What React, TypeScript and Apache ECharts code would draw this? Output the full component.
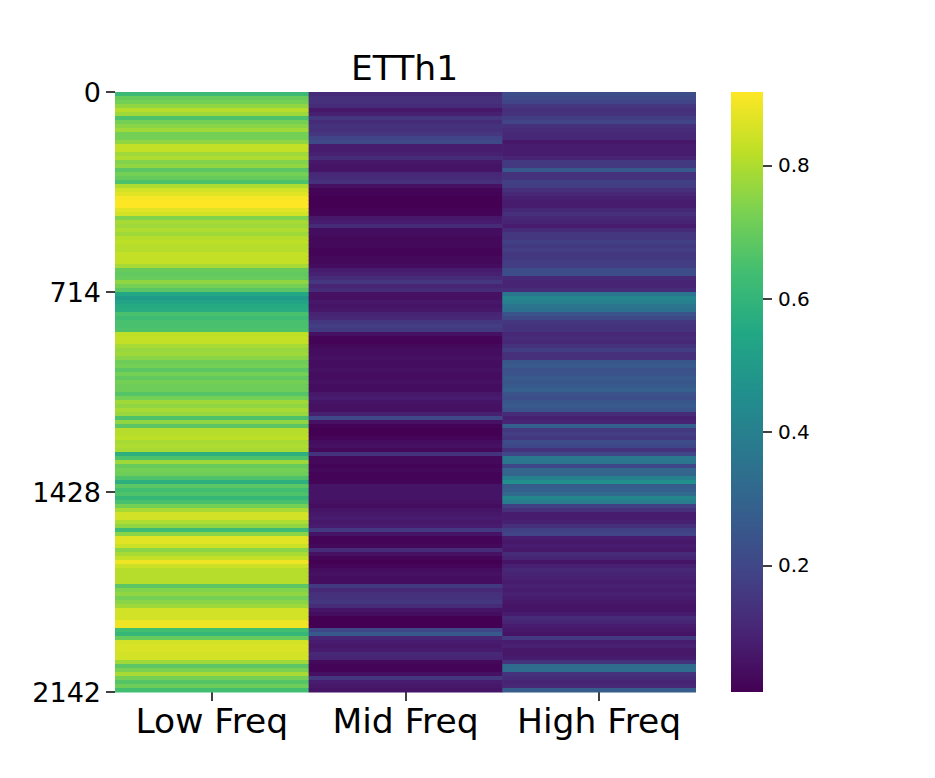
import { useEffect, useRef } from 'react';
import * as echarts from 'echarts';

const bands = ['Low Freq', 'Mid Freq', 'High Freq'];
const rowTicks = [0, 714, 1428, 2142];
const colorbarTicks = [0.2, 0.4, 0.6, 0.8];
const viridis = [
  '#440154', '#482475', '#414487', '#355f8d', '#2a788e', '#21908d',
  '#22a884', '#42be71', '#7ad151', '#bddf26', '#fde725',
];

// one row = 2142 / 150 samples, read from top to bottom
const lowFreq = [
  0.62, 0.7, 0.72, 0.76, 0.81, 0.78, 0.66, 0.72, 0.75, 0.78,
  0.72, 0.72, 0.76, 0.83, 0.83, 0.78, 0.8, 0.74, 0.76, 0.68,
  0.72, 0.7, 0.66, 0.8, 0.85, 0.87, 0.9, 0.91, 0.91, 0.87,
  0.85, 0.74, 0.79, 0.78, 0.8, 0.78, 0.81, 0.82, 0.81, 0.81,
  0.83, 0.83, 0.83, 0.79, 0.7, 0.69, 0.7, 0.76, 0.72, 0.68,
  0.55, 0.5, 0.53, 0.56, 0.57, 0.65, 0.63, 0.65, 0.65, 0.66,
  0.82, 0.83, 0.83, 0.79, 0.77, 0.78, 0.75, 0.71, 0.72, 0.68,
  0.72, 0.69, 0.72, 0.71, 0.71, 0.67, 0.72, 0.78, 0.76, 0.79,
  0.77, 0.66, 0.76, 0.68, 0.81, 0.81, 0.82, 0.79, 0.8, 0.79,
  0.58, 0.66, 0.78, 0.7, 0.72, 0.71, 0.66, 0.58, 0.68, 0.64,
  0.66, 0.61, 0.65, 0.72, 0.79, 0.85, 0.85, 0.8, 0.76, 0.63,
  0.75, 0.87, 0.87, 0.84, 0.75, 0.79, 0.83, 0.89, 0.84, 0.81,
  0.81, 0.81, 0.81, 0.68, 0.74, 0.76, 0.72, 0.75, 0.78, 0.85,
  0.85, 0.85, 0.89, 0.89, 0.64, 0.61, 0.7, 0.85, 0.86, 0.86,
  0.85, 0.85, 0.78, 0.68, 0.73, 0.79, 0.72, 0.67, 0.71, 0.64,
];
const midFreq = [
  0.12, 0.13, 0.13, 0.12, 0.07, 0.09, 0.15, 0.12, 0.14, 0.13,
  0.15, 0.19, 0.21, 0.08, 0.08, 0.09, 0.12, 0.07, 0.06, 0.06,
  0.11, 0.12, 0.13, 0.05, 0.02, 0.015, 0.01, 0.01, 0.01, 0.015,
  0.02, 0.07, 0.08, 0.12, 0.04, 0.04, 0.03, 0.03, 0.03, 0.02,
  0.02, 0.03, 0.03, 0.04, 0.08, 0.09, 0.12, 0.15, 0.1, 0.12,
  0.05, 0.05, 0.07, 0.06, 0.07, 0.1, 0.11, 0.15, 0.17, 0.16,
  0.05, 0.02, 0.015, 0.03, 0.04, 0.04, 0.05, 0.04, 0.04, 0.05,
  0.04, 0.04, 0.05, 0.04, 0.04, 0.07, 0.08, 0.06, 0.05, 0.05,
  0.09, 0.2, 0.05, 0.015, 0.01, 0.01, 0.02, 0.04, 0.05, 0.03,
  0.14, 0.03, 0.03, 0.02, 0.03, 0.02, 0.02, 0.02, 0.06, 0.06,
  0.06, 0.06, 0.05, 0.04, 0.06, 0.07, 0.08, 0.07, 0.08, 0.16,
  0.06, 0.02, 0.02, 0.03, 0.12, 0.05, 0.02, 0.01, 0.02, 0.04,
  0.05, 0.04, 0.04, 0.16, 0.11, 0.13, 0.14, 0.15, 0.12, 0.06,
  0.04, 0.01, 0.01, 0.01, 0.2, 0.26, 0.1, 0.08, 0.07, 0.08,
  0.11, 0.1, 0.03, 0.02, 0.02, 0.05, 0.15, 0.08, 0.07, 0.06,
];
const highFreq = [
  0.22, 0.21, 0.19, 0.15, 0.13, 0.14, 0.17, 0.19, 0.13, 0.12,
  0.11, 0.11, 0.07, 0.08, 0.08, 0.08, 0.1, 0.16, 0.16, 0.26,
  0.14, 0.14, 0.18, 0.17, 0.13, 0.11, 0.09, 0.08, 0.08, 0.11,
  0.13, 0.11, 0.1, 0.08, 0.12, 0.15, 0.15, 0.18, 0.16, 0.17,
  0.15, 0.16, 0.17, 0.17, 0.22, 0.22, 0.11, 0.1, 0.1, 0.12,
  0.36, 0.42, 0.4, 0.36, 0.35, 0.24, 0.21, 0.15, 0.14, 0.14,
  0.11, 0.12, 0.11, 0.14, 0.17, 0.13, 0.13, 0.25, 0.26, 0.23,
  0.24, 0.26, 0.25, 0.26, 0.28, 0.24, 0.22, 0.25, 0.26, 0.24,
  0.12, 0.09, 0.1, 0.28, 0.16, 0.17, 0.15, 0.22, 0.2, 0.14,
  0.2, 0.37, 0.36, 0.2, 0.3, 0.3, 0.4, 0.46, 0.27, 0.28,
  0.32, 0.42, 0.38, 0.18, 0.13, 0.08, 0.08, 0.09, 0.13, 0.18,
  0.19, 0.08, 0.07, 0.08, 0.07, 0.12, 0.1, 0.06, 0.09, 0.11,
  0.1, 0.09, 0.08, 0.09, 0.08, 0.09, 0.08, 0.07, 0.06, 0.06,
  0.08, 0.12, 0.1, 0.08, 0.07, 0.06, 0.16, 0.08, 0.09, 0.07,
  0.07, 0.08, 0.14, 0.32, 0.33, 0.14, 0.12, 0.1, 0.11, 0.27,
];

const columns = [lowFreq, midFreq, highFreq];
const rowSpan = 2142 / lowFreq.length;
const cells = columns.flatMap((col, c) => col.map((v, r) => [c, r * rowSpan, v]));

const font = '"DejaVu Sans", sans-serif';

export default function App() {
  const chartRef = useRef<HTMLDivElement>(null);

  useEffect(() => {
    if (!chartRef.current) return;
    const chart = echarts.init(chartRef.current, null, { renderer: 'svg' });

    const colorbarFill = new echarts.graphic.LinearGradient(
      0,
      0,
      0,
      1,
      viridis.map((color, i) => ({ offset: 1 - i / (viridis.length - 1), color })).reverse(),
    );

    const option: any = {
      animation: false,
      backgroundColor: '#fff',
      title: {
        text: 'ETTh1',
        left: 351,
        top: 50,
        padding: 0,
        textStyle: { fontFamily: font, fontSize: 34.5, fontWeight: 'normal', color: '#000' },
      },
      grid: [
        { left: 115, top: 92, width: 581, height: 600 },
        { left: 731, top: 92, width: 32, height: 600, show: true, backgroundColor: colorbarFill, borderWidth: 0 },
      ],
      xAxis: [
        {
          type: 'category',
          data: bands,
          axisLine: { show: false, onZero: false },
          axisTick: { show: true, alignWithLabel: true, length: 9, lineStyle: { color: '#000', width: 1.5 } },
          axisLabel: { fontFamily: font, fontSize: 34.5, color: '#000', margin: 11, interval: 0 },
        },
        { type: 'value', gridIndex: 1, show: false },
      ],
      yAxis: [
        {
          type: 'value',
          inverse: true,
          min: 0,
          max: 2142,
          interval: 714,
          splitLine: { show: false },
          axisLine: { show: false },
          axisTick: { show: true, length: 9, lineStyle: { color: '#000', width: 1.5 } },
          axisLabel: {
            fontFamily: font,
            fontSize: 27,
            color: '#000',
            margin: 14,
            padding: [0, 0, 3, 0],
            customValues: rowTicks,
            formatter: (v: number) => String(v),
          },
        },
        {
          type: 'value',
          gridIndex: 1,
          position: 'right',
          min: 0.01,
          max: 0.91,
          splitLine: { show: false },
          axisLine: { show: false, onZero: false },
          axisTick: {
            show: true,
            length: 9,
            customValues: colorbarTicks,
            lineStyle: { color: '#000', width: 1.5 },
          },
          axisLabel: {
            fontFamily: font,
            fontSize: 20,
            color: '#000',
            margin: 15,
            customValues: colorbarTicks,
            formatter: (v: number) => v.toFixed(1),
          },
        },
      ],
      visualMap: {
        type: 'continuous',
        show: false,
        seriesIndex: 0,
        dimension: 2,
        min: 0.01,
        max: 0.91,
        inRange: { color: viridis },
      },
      series: [
        {
          type: 'custom',
          coordinateSystem: 'cartesian2d',
          silent: true,
          encode: { x: 0, y: 1 },
          data: cells,
          renderItem: (_params: any, api: any) => {
            const colWidth = api.size([1, 0])[0];
            const start = api.coord([api.value(0), api.value(1)]);
            const end = api.coord([api.value(0), api.value(1) + rowSpan]);
            return {
              type: 'rect',
              shape: {
                x: start[0] - colWidth / 2,
                y: start[1],
                width: colWidth + (api.value(0) < 2 ? 0.6 : 0),
                height: end[1] - start[1] + 0.5,
              },
              style: { fill: api.visual('color') },
            };
          },
        },
      ],
    };

    chart.setOption(option);
    return () => chart.dispose();
  }, []);

  return <div ref={chartRef} style={{ position: 'absolute', left: 0, top: 0, width: 935, height: 778 }} />;
}
